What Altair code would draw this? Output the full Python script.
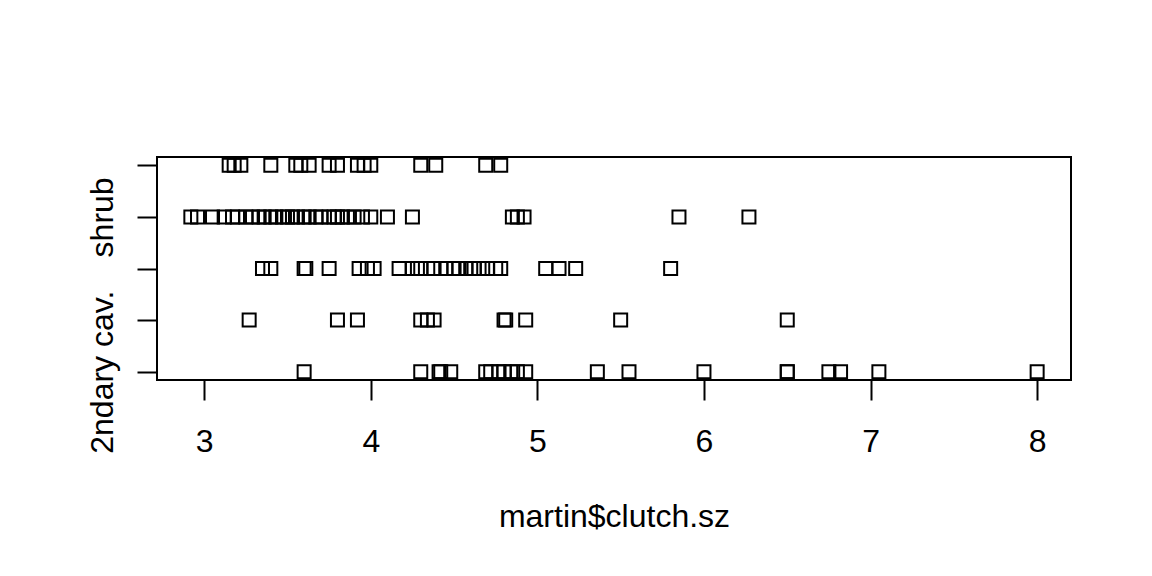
import altair as alt
import pandas as pd

# clutch sizes per nest-type row (row 1 = bottom)
row1 = [3.6, 4.3, 4.41, 4.42, 4.48, 4.69, 4.72, 4.77, 4.8, 4.84, 4.88, 4.93,
        5.36, 5.55, 6.0, 6.5, 6.5, 6.75, 6.82, 7.05, 8.0]
row2 = [3.27, 3.8, 3.92, 4.3, 4.34, 4.38, 4.8, 4.81, 4.93, 5.5, 6.5]
row3 = [3.35, 3.4, 3.6, 3.61, 3.75, 3.93, 3.98, 4.02, 4.17, 4.25, 4.28, 4.3,
        4.38, 4.42, 4.45, 4.5, 4.53, 4.57, 4.6, 4.62, 4.65, 4.7, 4.75, 4.78,
        5.05, 5.13, 5.23, 5.8]
row4 = [2.92, 2.96, 3.05, 3.12, 3.17, 3.2, 3.25, 3.29, 3.33, 3.36, 3.4, 3.43,
        3.47, 3.5, 3.53, 3.56, 3.6, 3.63, 3.67, 3.7, 3.75, 3.78, 3.8, 3.83,
        3.86, 3.9, 3.95, 4.0, 4.1, 4.25, 4.85, 4.88, 4.92, 5.85, 6.27]
row5 = [3.15, 3.18, 3.22, 3.4, 3.55, 3.58, 3.63, 3.75, 3.8, 3.92, 3.96, 4.0,
        4.3, 4.39, 4.69, 4.78]

rows = [row1, row2, row3, row4, row5]
# only these labels are drawn (others are dropped as overlapping in the original)
row_labels = ["2ndary cav.", "", "", "shrub", ""]
x_ticks = [3, 4, 5, 6, 7, 8]

records = []
for i, vals in enumerate(rows):
    for v in vals:
        records.append({"clutch": v, "row": i + 1})
df = pd.DataFrame(records)

label_expr = " : ".join(
    [f"datum.value == {i+1} ? '{lab}'" for i, lab in enumerate(row_labels) if lab]
) + " : ''"

FONT = "Liberation Sans"

chart = (
    alt.Chart(df)
    .mark_point(shape="square", filled=False, size=169, strokeWidth=2, color="black", opacity=1)
    .encode(
        x=alt.X(
            "clutch:Q",
            scale=alt.Scale(domain=[2.7168, 8.2032], nice=False, zero=False),
            axis=alt.Axis(
                values=x_ticks, title="martin$clutch.sz", grid=False, domain=False,
                tickSize=20, tickWidth=2, tickColor="black", labelPadding=26,
                labelFontSize=32, labelFont=FONT, labelColor="black",
                titleFontSize=32, titleFont=FONT, titleColor="black",
                titleFontWeight="normal", titlePadding=44, format="d",
                labelFlush=False,
            ),
        ),
        y=alt.Y(
            "row:Q",
            scale=alt.Scale(domain=[0.84, 5.16], nice=False, zero=False),
            axis=alt.Axis(
                values=[1, 2, 3, 4, 5], title=None, grid=False, domain=False,
                tickSize=20, tickWidth=2, tickColor="black", labelPadding=25,
                labelAngle=270, labelAlign="center", labelBaseline="alphabetic",
                labelExpr=label_expr, labelFontSize=32, labelFont=FONT,
                labelColor="black", labelFlush=False, labelOverlap=False,
            ),
        ),
    )
    .properties(
        width=914, height=223,
        autosize=alt.AutoSizeParams(type="none"),
        padding={"left": 157, "top": 157, "right": 81, "bottom": 196},
        background="white",
    )
    .configure_view(stroke="black", strokeWidth=2)
)

chart.save("out.html", embed_options={"renderer": "svg", "actions": False})
